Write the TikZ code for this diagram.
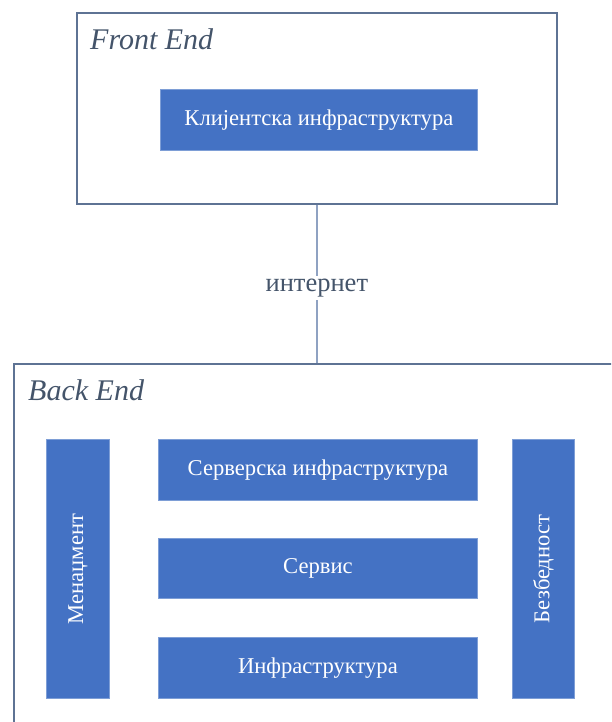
\documentclass[tikz,border=0pt]{standalone}
\usepackage{fontspec}
\setmainfont{Liberation Serif}
\definecolor{boxblue}{HTML}{4472C4}
\definecolor{boxedge}{HTML}{7E9ED6}
\definecolor{frameedge}{HTML}{5E7394}
\definecolor{titlecol}{HTML}{44546A}
\definecolor{linkcol}{HTML}{8FA2C2}
\tikzset{
  frame/.style={draw=frameedge, line width=1.7pt, fill=white, anchor=north west, inner sep=0pt},
  bluebox/.style={draw=boxedge, line width=0.8pt, fill=boxblue, text=white, anchor=north west,
    inner sep=0pt, font=\fontsize{22.6}{26}\selectfont},
  sidetext/.style={rotate=90, text=white, inner sep=0pt, font=\fontsize{22.6}{26}\selectfont},
  frametitle/.style={anchor=base west, inner sep=0pt, text=titlecol, font=\fontsize{30}{34}\selectfont\itshape},
  linklabel/.style={fill=white, inner sep=3pt, text=titlecol, font=\fontsize{26.5}{30}\selectfont}
}
\begin{document}
\begin{tikzpicture}[x=1pt,y=-1pt]
\useasboundingbox (0,0) rectangle (611,722);
\clip (0,0) rectangle (611,722);
% Front End
\node[frame, minimum width=480, minimum height=191] (fe) at (76,12) {};
\node[frametitle] (fet) at (90,50) {Front End};
\node[bluebox, minimum width=317, minimum height=61] (cli) at (160,89) {Клијентска инфраструктура};
% Back End
\node[frame, minimum width=640, minimum height=420] (be) at (13,363) {};
\node[frametitle] (bet) at (28,400) {Back End};
\node[bluebox, minimum width=319, minimum height=61] (srv) at (158,439) {Серверска инфраструктура};
\node[bluebox, minimum width=319, minimum height=60] (ser) at (158,538) {Сервис};
\node[bluebox, minimum width=319, minimum height=61] (inf) at (158,637) {Инфраструктура};
\node[bluebox, minimum width=63, minimum height=259] (men) at (46,439) {};
\node[sidetext] (ment) at (men.center) {Менаџмент};
\node[bluebox, minimum width=62, minimum height=259] (bez) at (512,439) {};
\node[sidetext] (bezt) at (bez.center) {Безбедност};
% connector
\draw[linkcol, line width=1.7pt] (fe.south) -- (fe.south |- be.north)
  node[midway, linklabel, yshift=-4pt] (net) {интернет};
\end{tikzpicture}
\end{document}
